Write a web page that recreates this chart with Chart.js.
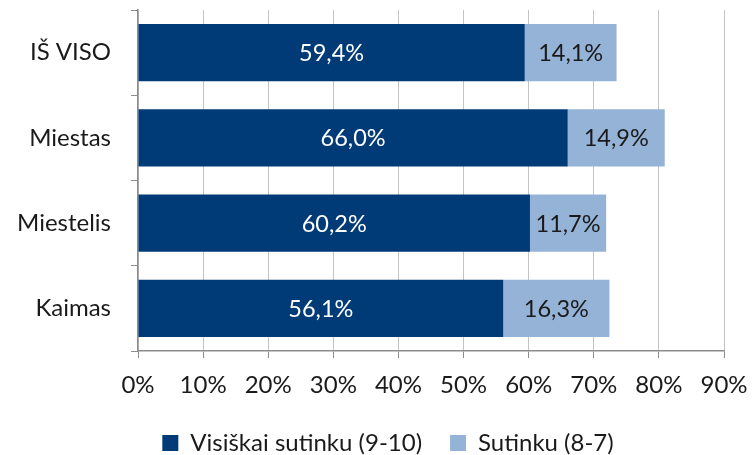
<!DOCTYPE html>
<html><head><meta charset="utf-8">
<script src="https://cdn.jsdelivr.net/npm/chart.js@4/dist/chart.umd.min.js"></script>
<style>html,body{margin:0;padding:0;background:#fff}#w{width:755px;height:455px}</style>
</head><body><div id="w"><canvas id="c" width="755" height="455"></canvas></div>
<script>
const categories = ["IŠ VISO", "Miestas", "Miestelis", "Kaimas"];
const seriesNames = ["Visiškai sutinku (9-10)", "Sutinku (8-7)"];
const fullyAgree = [59.4, 66.0, 60.2, 56.1];
const agree = [14.1, 14.9, 11.7, 16.3];
const colors = ["#003B78", "#95B3D7"];
const labelColors = ["#ffffff", "#1a1a1a"];
const FONT = "Lato, 'Open Sans', sans-serif";

const valueLabels = {
  id: 'valueLabels',
  afterDatasetsDraw(chart) {
    const ctx = chart.ctx;
    ctx.save();
    ctx.font = "23.5px " + FONT;
    ctx.textAlign = "center";
    ctx.textBaseline = "middle";
    chart.data.datasets.forEach((ds, i) => {
      const meta = chart.getDatasetMeta(i);
      meta.data.forEach((el, j) => {
        const p = el.getProps(['x','y','base'], true);
        ctx.fillStyle = labelColors[i];
        ctx.fillText(ds.data[j].toFixed(1).replace('.', ',') + '%', (p.x + p.base) / 2, p.y + 1);
      });
    });
    ctx.restore();
  }
};

new Chart(document.getElementById('c'), {
  type: 'bar',
  data: {
    labels: categories,
    datasets: [
      { label: seriesNames[0], data: fullyAgree, backgroundColor: colors[0] },
      { label: seriesNames[1], data: agree, backgroundColor: colors[1] }
    ]
  },
  options: {
    indexAxis: 'y',
    responsive: false,
    animation: false,
    layout: { padding: { top: 10, right: -21, left: 0, bottom: -10 } },
    datasets: { bar: { categoryPercentage: 1, barPercentage: 0.67 } },
    plugins: {
      legend: {
        position: 'bottom',
        labels: { font: { size: 24, family: FONT }, color: '#1a1a1a', boxWidth: 16, boxHeight: 16, padding: 28 }
      },
      tooltip: { enabled: false }
    },
    scales: {
      x: {
        stacked: true, min: 0, max: 90,
        ticks: { stepSize: 10, callback: v => v + '%', font: { size: 24, family: FONT }, color: '#1a1a1a', padding: 13, maxRotation: 0 },
        grid: { color: '#c4c4c4', borderDash: [5, 3], tickLength: 7, tickColor: '#8c8c8c', tickBorderDash: [] },
        border: { color: '#8c8c8c', width: 1.5 },
        afterFit(s) { s.height = 52; s.paddingLeft = 0; s.paddingRight = 31; }
      },
      y: {
        stacked: true,
        ticks: { font: { size: 24, family: FONT }, color: '#1a1a1a', padding: 20 },
        grid: { offset: true, drawOnChartArea: false, tickLength: 7, color: '#8c8c8c' },
        border: { color: '#8c8c8c', width: 1.5 },
        afterFit(s) { s.width = 138; s.paddingTop = 0; s.paddingBottom = 0; }
      }
    }
  },
  plugins: [valueLabels]
});
</script>
</body></html>
